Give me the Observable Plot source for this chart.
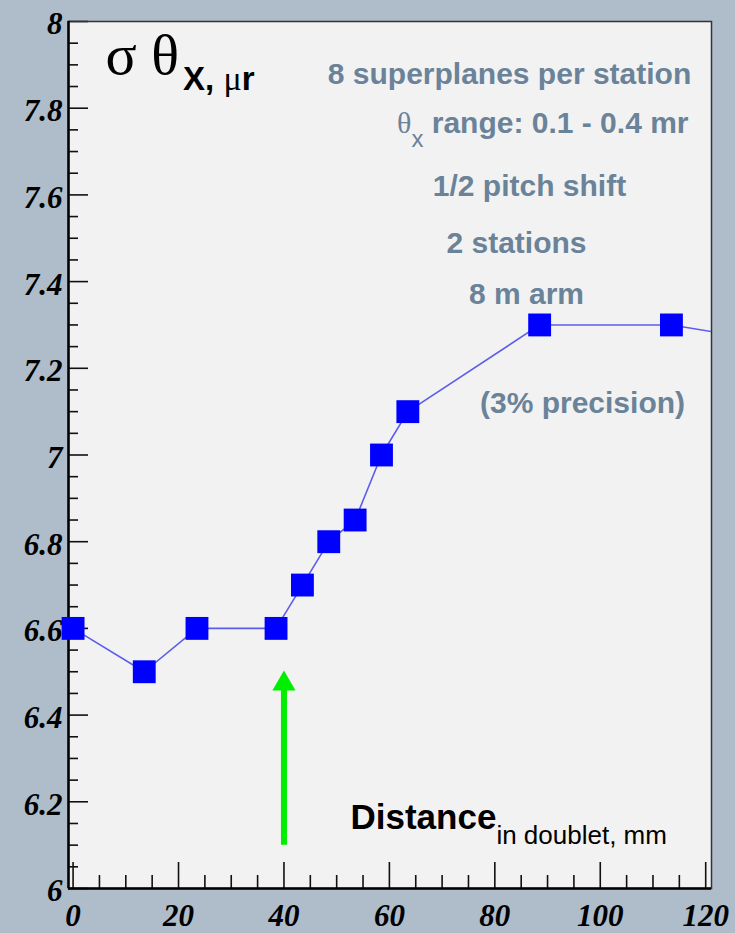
<!DOCTYPE html>
<html><head><meta charset="utf-8">
<script src="https://cdn.jsdelivr.net/npm/d3@7"></script>
<script src="https://cdn.jsdelivr.net/npm/@observablehq/plot@0.6"></script>
<style>html,body{margin:0;padding:0;background:#aebdc9;overflow:hidden}</style>
</head><body><div id="chart"></div>
<script>
// ---- data ----
const distance = [0, 13.5, 23.5, 38.5, 43.5, 48.5, 53.5, 58.5, 63.5, 88.5, 113.5, 138.5];
const sigma    = [6.6, 6.5, 6.6, 6.6, 6.7, 6.8, 6.85, 7.0, 7.1, 7.3, 7.3, 7.25];
const xDomain = [-0.87, 121.1];
const yDomain = [6, 8];
const xMajorTicks = [0, 20, 40, 60, 80, 100, 120];
const xTickLabels = ["0", "20", "40", "60", "80", "100", "120"];
const yMajorTicks = [6, 6.2, 6.4, 6.6, 6.8, 7, 7.2, 7.4, 7.6, 7.8, 8];
const yTickLabels = ["6", "6.2", "6.4", "6.6", "6.8", "7", "7.2", "7.4", "7.6", "7.8", "8"];
const xMinorTicks = d3.range(0, 121, 5).filter(v => !xMajorTicks.includes(v));
const yMinorTicks = d3.range(0, 41).map(i => +(6 + i * 0.05).toFixed(2)).filter(v => !yMajorTicks.includes(v));
const arrowX = [40];
const arrowFrom = [6.1];
const arrowTo = [6.46];
const arrowTip = [6.472];
const titleMain = "σ θ";
const titleSubParts = ["X, ", "μ", "r"];
const notes = ["8 superplanes per station", "θx range: 0.1 - 0.4 mr", "1/2 pitch shift", "2 stations", "8 m arm", "(3% precision)"];
const axisTitle = "Distance";
const axisTitleSub = "in doublet, mm";

const points = distance.map((d, i) => ({x: d, y: sigma[i]}));
const arrow = arrowX.map((x, i) => ({x, y1: arrowFrom[i], y2: arrowTo[i], tip: arrowTip[i]}));

const W = 735, H = 933, mL = 68, mT = 21, mR = 24, mB = 45;
const pw = W - mL - mR, ph = H - mT - mB;
const noteColor = "#6a8399";
const serifBI = {fontFamily: "Liberation Serif, serif", fontWeight: "bold", fontStyle: "italic", fontSize: 31, fill: "black"};
const sansB = {fontFamily: "Liberation Sans, Arial, sans-serif", fontWeight: "bold", fontSize: 30, fill: noteColor};

const noteLayout = [
  {dx: 509 - mL, dy: 83 - mT, anchor: "middle"},
  {dx: 688 - mL, dy: 132 - mT, anchor: "end"},
  {dx: 529 - mL, dy: 195 - mT, anchor: "middle"},
  {dx: 516 - mL, dy: 252 - mT, anchor: "middle"},
  {dx: 526 - mL, dy: 303 - mT, anchor: "middle"},
  {dx: 582 - mL, dy: 412 - mT, anchor: "middle"}
];

const plot = Plot.plot({
  width: W, height: H,
  marginLeft: mL, marginTop: mT, marginRight: mR, marginBottom: mB,
  style: {background: "#aebdc9", overflow: "hidden"},
  x: {domain: xDomain, axis: null},
  y: {domain: yDomain, axis: null},
  marks: [
    Plot.frame({fill: "#f2f2f2", stroke: null}),
    // ticks (inward)
    Plot.ruleY(yMajorTicks, {y: d => d, stroke: "#111", strokeWidth: 1.6, insetRight: pw - 20}),
    Plot.ruleY(yMinorTicks, {y: d => d, stroke: "#111", strokeWidth: 1.6, insetRight: pw - 10}),
    Plot.ruleX(xMajorTicks, {x: d => d, stroke: "#111", strokeWidth: 1.6, insetTop: ph - 26}),
    Plot.ruleX(xMinorTicks, {x: d => d, stroke: "#111", strokeWidth: 1.6, insetTop: ph - 13}),
    // frame
    Plot.frame({stroke: "#333", strokeWidth: 1.5}),
    Plot.ruleY([yDomain[0]], {stroke: "black", strokeWidth: 2.5}),
    Plot.ruleX([xDomain[0]], {stroke: "black", strokeWidth: 2.5}),
    // tick labels
    Plot.text(yMajorTicks, {y: d => d, text: (d, i) => yTickLabels[i], frameAnchor: "left", textAnchor: "end", dx: -6, dy: 3, ...serifBI}),
    Plot.text(xMajorTicks, {x: d => d, text: (d, i) => xTickLabels[i], frameAnchor: "bottom", lineAnchor: "middle", dy: 28, ...serifBI}),
    // data
    Plot.line(points, {x: "x", y: "y", stroke: "#5c5cee", strokeWidth: 1.6, clip: true}),
    Plot.dot(points.filter(d => d.x <= xDomain[1]), {x: "x", y: "y", symbol: "square", r: 12.9, fill: "#0000ff", stroke: null}),
    // green arrow
    Plot.ruleX(arrow, {x: "x", y1: "y1", y2: "y2", stroke: "#00ee00", strokeWidth: 6}),
    Plot.dot(arrow, {x: "x", y: "tip", symbol: "triangle", r: 8.6, fill: "#00ee00", stroke: null}),
    // annotations
    Plot.text([titleMain], {text: d => d, frameAnchor: "top-left", dx: 105 - mL, dy: 73 - mT, lineAnchor: "bottom", textAnchor: "start",
      fontFamily: "Liberation Serif, serif", fontSize: 58, fill: "black"}),
    ...notes.map((n, i) => Plot.text([n], {text: d => d, frameAnchor: "top-left", dx: noteLayout[i].dx, dy: noteLayout[i].dy,
      lineAnchor: "bottom", textAnchor: noteLayout[i].anchor, ...sansB})),
    Plot.text([axisTitle], {text: d => d, frameAnchor: "top-left", dx: 350 - mL, dy: 828 - mT, lineAnchor: "bottom", textAnchor: "start",
      fontFamily: "Liberation Sans, Arial, sans-serif", fontWeight: "bold", fontSize: 35, fill: "black"})
  ]
});

// add subscripts as tspans
const svg = d3.select(plot);
svg.selectAll("text").each(function() {
  const t = d3.select(this);
  const c = this.textContent;
  if (c === titleMain) {
    t.append("tspan").attr("dx", 4).attr("dy", 16).attr("font-family", "Liberation Sans, Arial, sans-serif").attr("font-weight", "bold").attr("font-size", 33).text(titleSubParts[0]);
    t.append("tspan").attr("font-family", "Liberation Serif, serif").attr("font-size", 34).text(titleSubParts[1]);
    t.append("tspan").attr("font-family", "Liberation Sans, Arial, sans-serif").attr("font-weight", "bold").attr("font-size", 33).text(titleSubParts[2]);
  } else if (c === notes[1]) {
    this.textContent = "";
    t.append("tspan").attr("font-family", "Liberation Serif, serif").attr("font-weight", "normal").attr("font-size", 30).text(c[0]);
    t.append("tspan").attr("dy", 14).attr("font-size", 24).attr("font-weight", "normal").text(c[1]);
    t.append("tspan").attr("dy", -14).text(c.slice(2));
  } else if (c === axisTitle) {
    t.append("tspan").attr("dy", 15).attr("font-weight", "normal").attr("font-size", 26).text(axisTitleSub);
  }
});

document.getElementById("chart").appendChild(plot);
</script>
</body></html>
